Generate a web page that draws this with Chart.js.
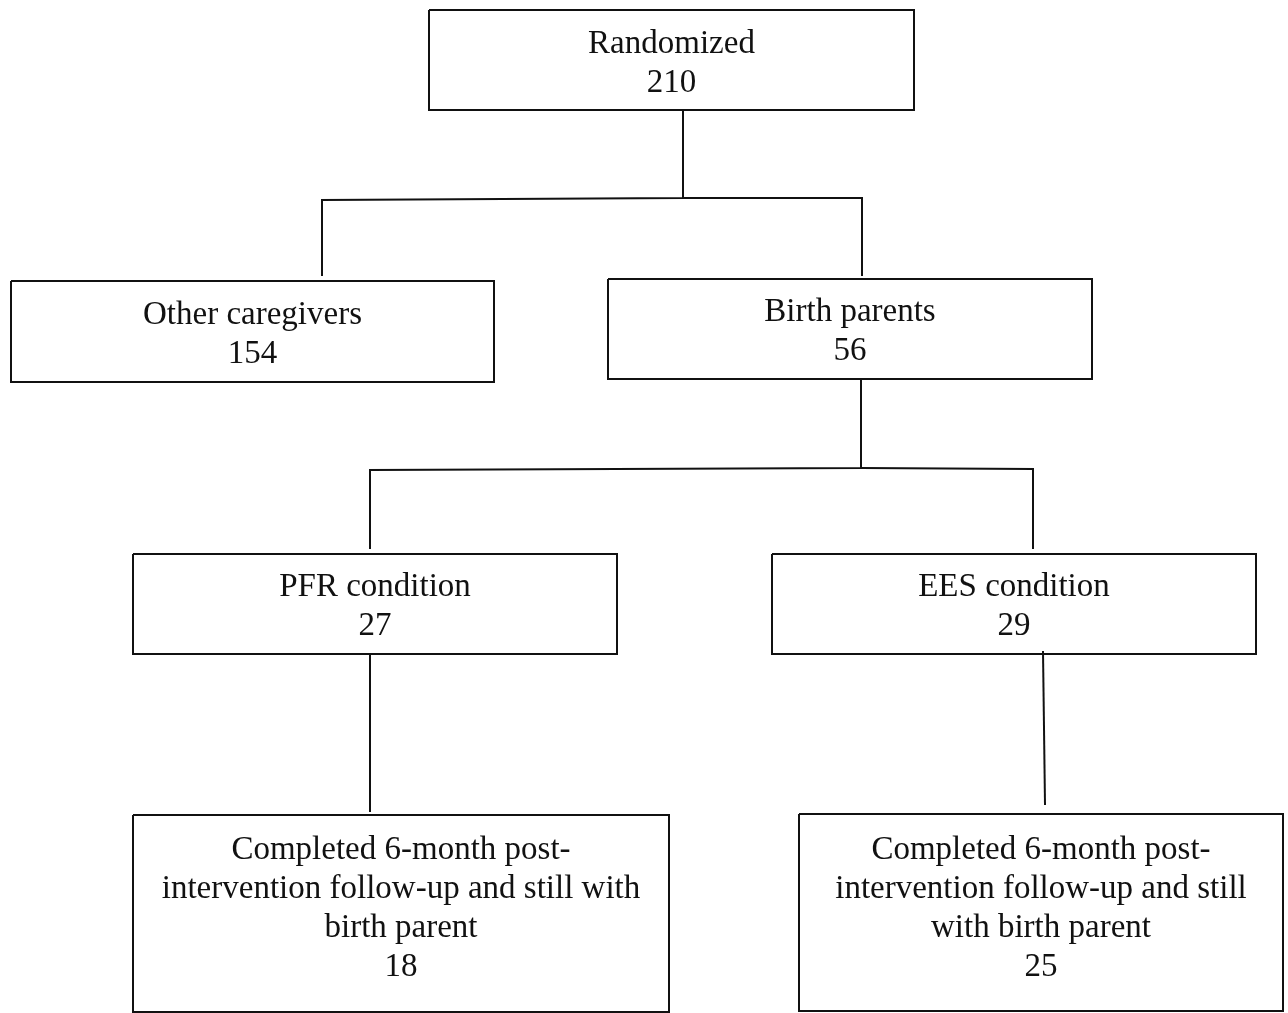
<!DOCTYPE html>
<html>
<head>
<meta charset="utf-8">
<script src="https://cdn.jsdelivr.net/npm/chart.js@4"></script>
<style>
  html, body { margin: 0; padding: 0; background: #fff; }
  #wrap { width: 1288px; height: 1013px; }
</style>
</head>
<body>
<div id="wrap"><canvas id="flow"></canvas></div>
<script>
// Flow data ---------------
const boxLabels = [
  ['Randomized'],
  ['Other caregivers'],
  ['Birth parents'],
  ['PFR condition'],
  ['EES condition'],
  ['Completed 6-month post-', 'intervention follow-up and still with', 'birth parent'],
  ['Completed 6-month post-', 'intervention follow-up and still', 'with birth parent']
];
const boxCounts = [210, 154, 56, 27, 29, 18, 25];

// layout (x1, y1, x2, y2) in page units
const boxRects = [
  [429, 10, 914, 110],
  [11, 281, 494, 382],
  [608, 279, 1092, 379],
  [133, 554, 617, 654],
  [772, 554, 1256, 654],
  [133, 815, 669, 1012],
  [799, 814, 1283, 1011]
];
const textCenterY = [64, 335, 332, 607, 607, 909, 909];

// connector lines
const links = [
  [[683, 110], [683, 198], [322, 200], [322, 276]],
  [[683, 198], [862, 198], [862, 276]],
  [[861, 379], [861, 468], [370, 470], [370, 549]],
  [[861, 468], [1033, 469], [1033, 549]],
  [[370, 654], [370, 812]],
  [[1043, 651], [1045, 805]]
];

const lineColor = '#111';
const datasets = [];
boxRects.forEach(r => {
  datasets.push({
    data: [
      {x: r[0], y: r[1]}, {x: r[2], y: r[1]}, {x: r[2], y: r[3]},
      {x: r[0], y: r[3]}, {x: r[0], y: r[1]}
    ],
    borderColor: lineColor, borderWidth: 2, pointRadius: 0,
    showLine: true, fill: false, tension: 0, clip: false,
    borderJoinStyle: 'miter'
  });
});
links.forEach(pts => {
  datasets.push({
    data: pts.map(p => ({x: p[0], y: p[1]})),
    borderColor: lineColor, borderWidth: 2, pointRadius: 0,
    showLine: true, fill: false, tension: 0, clip: false,
    borderJoinStyle: 'miter'
  });
});

const boxText = {
  id: 'boxText',
  afterDatasetsDraw(chart) {
    const ctx = chart.ctx;
    const xs = chart.scales.x, ys = chart.scales.y;
    ctx.save();
    ctx.fillStyle = '#111';
    ctx.font = '33px "Liberation Serif", "Times New Roman", serif';
    ctx.textAlign = 'center';
    ctx.textBaseline = 'middle';
    const lh = 39;
    boxRects.forEach((r, i) => {
      const lines = boxLabels[i].concat([String(boxCounts[i])]);
      const cx = xs.getPixelForValue((r[0] + r[2]) / 2);
      const cy = ys.getPixelForValue(textCenterY[i]);
      const top = cy - (lines.length - 1) * lh / 2;
      lines.forEach((t, k) => ctx.fillText(t, cx, top + k * lh));
    });
    ctx.restore();
  }
};

new Chart(document.getElementById('flow'), {
  type: 'scatter',
  data: { datasets: datasets },
  options: {
    responsive: true,
    maintainAspectRatio: false,
    animation: false,
    layout: { padding: 0 },
    plugins: { legend: { display: false }, tooltip: { enabled: false } },
    scales: {
      x: { type: 'linear', min: 0, max: 1288, display: false },
      y: { type: 'linear', min: 0, max: 1013, reverse: true, display: false }
    }
  },
  plugins: [boxText]
});
</script>
</body>
</html>
